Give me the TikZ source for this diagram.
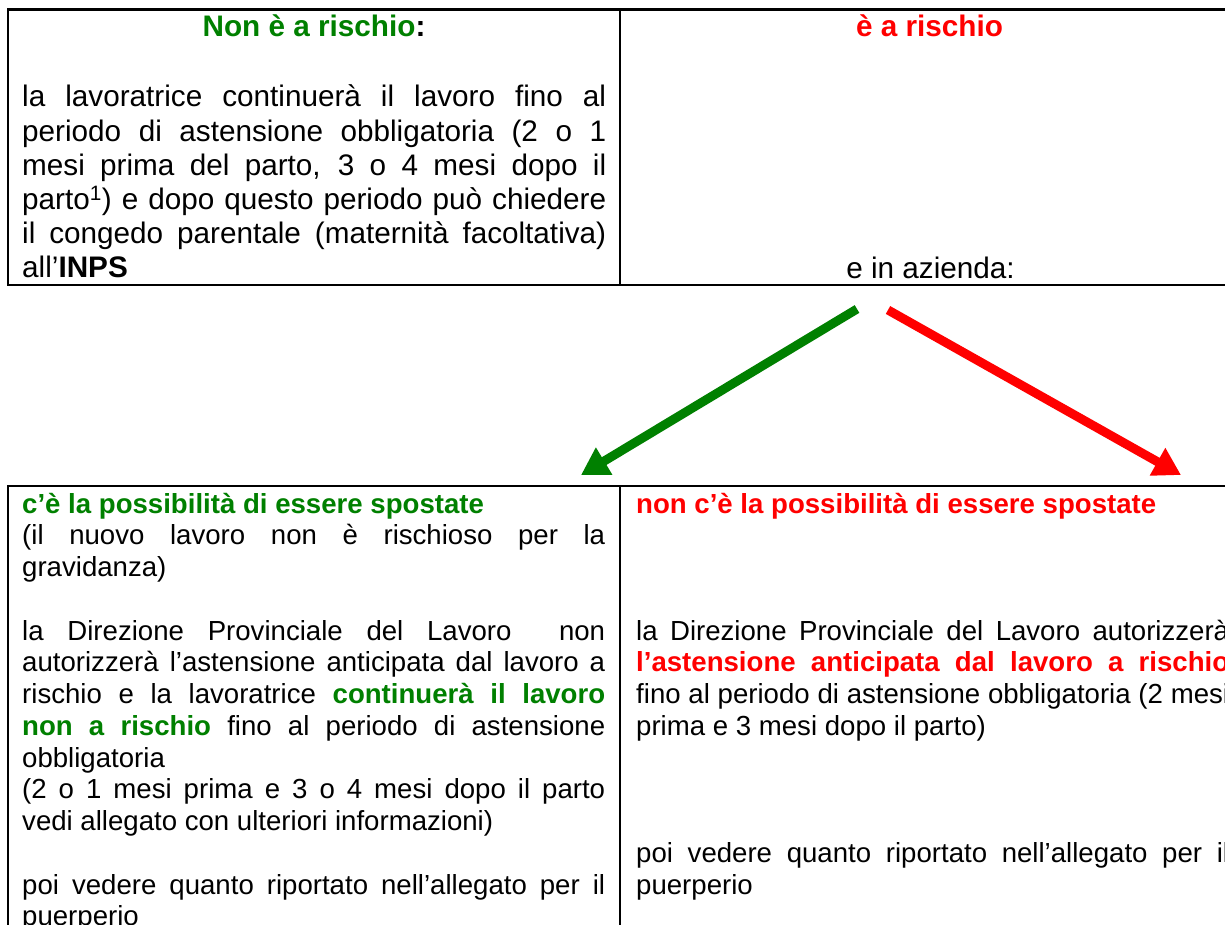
\documentclass[tikz,border=0pt]{standalone}
\usepackage{fontspec}
\setmainfont{Liberation Sans}
\usetikzlibrary{arrows.meta}
\definecolor{grn}{RGB}{0,128,0}
\definecolor{rsk}{RGB}{255,0,0}
\begin{document}
\begin{tikzpicture}[x=1pt,y=-1pt,
  frame/.style={draw=black,line width=2.4pt},
  body/.style={inner sep=0pt,align=justify,font=\fontsize{29.7}{34.2}\selectfont},
  lowbody/.style={inner sep=0pt,align=justify,font=\fontsize{27.6}{31.75}\selectfont},
  head/.style={inner sep=0pt,font=\fontsize{29.7}{34.2}\selectfont\bfseries},
  plain/.style={inner sep=0pt,font=\fontsize{29.7}{34.2}\selectfont},
  arr/.style={line width=9pt,-{Triangle[length=27pt,width=30pt]}}]
\useasboundingbox (0,0) rectangle (1225,925);
\fill[white] (0,0) rectangle (1225,925);
% top table
\draw[frame] (8,9.5) rectangle (1262,285);
\draw[frame] (620,9.5) -- (620,285);
\node[head,text=grn,anchor=base] (h1) at (314,37) {Non è a rischio\textcolor{black}{:}};
\node[head,text=rsk,anchor=base] (h2) at (929.5,37) {è a rischio};
\node[plain,anchor=base] (h3) at (930.5,278) {e in azienda:};
\node[body,text width=584pt,anchor=base west] (t1) at (22,107) {\hyphenpenalty=10000
la lavoratrice continuerà il lavoro fino al\linebreak
periodo di astensione obbligatoria (2 o 1\linebreak
mesi prima del parto, 3 o 4 mesi dopo il\linebreak
parto\textsuperscript{1}) e dopo questo periodo può chiedere\linebreak
il congedo parentale (maternità facoltativa)\linebreak
all’\textbf{INPS}};
% arrows
\coordinate (gA) at (857,309);
\coordinate (gB) at (581,475);
\coordinate (rA) at (888,310);
\coordinate (rB) at (1181,475);
\draw[arr,grn] (gA) -- (gB);
\draw[arr,rsk] (rA) -- (rB);
% bottom table
\draw[frame] (8,486) rectangle (1262,960);
\draw[frame] (620,486) -- (620,960);
\node[lowbody,text width=583pt,anchor=base west] (b1) at (22,513) {\hyphenpenalty=10000
{\color{grn}\bfseries c’è la possibilità di essere spostate}\\
(il nuovo lavoro non è rischioso per la\linebreak
gravidanza)\\
\mbox{}\\
la Direzione Provinciale del Lavoro \ non\linebreak
autorizzerà l’astensione anticipata dal lavoro a\linebreak
rischio e la lavoratrice {\color{grn}\bfseries continuerà il lavoro}\linebreak
{\color{grn}\bfseries non a rischio} fino al periodo di astensione\linebreak
obbligatoria\\
(2 o 1 mesi prima e 3 o 4 mesi dopo il parto\linebreak
vedi allegato con ulteriori informazioni)\\
\mbox{}\\
poi vedere quanto riportato nell’allegato per il\linebreak
puerperio};
\node[lowbody,text width=593pt,anchor=base west] (b2) at (636,513) {\hyphenpenalty=10000
{\color{rsk}\bfseries non c’è la possibilità di essere spostate}\\
\mbox{}\\
\mbox{}\\
\mbox{}\\
la Direzione Provinciale del Lavoro autorizzerà\linebreak
{\color{rsk}\bfseries l’astensione anticipata dal lavoro a rischio}\linebreak
fino al periodo di astensione obbligatoria (2 mesi\linebreak
prima e 3 mesi dopo il parto)\\
\mbox{}\\
\mbox{}\\
\mbox{}\\
poi vedere quanto riportato nell’allegato per il\linebreak
puerperio};
\end{tikzpicture}
\end{document}
